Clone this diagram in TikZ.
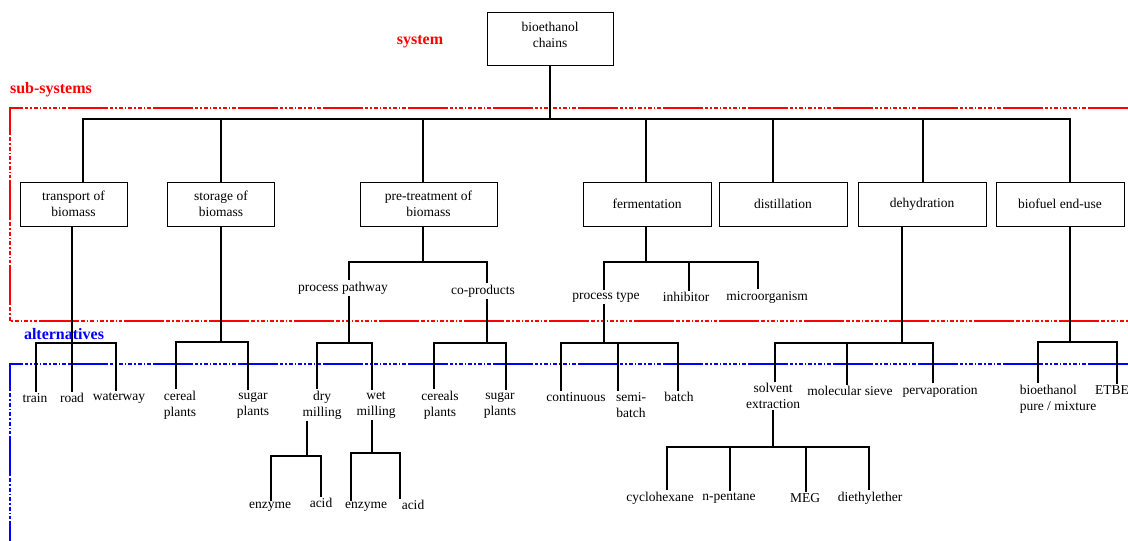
\documentclass[tikz,border=0pt]{standalone}
\usepackage{fontspec}
\setmainfont{Liberation Serif}
\usetikzlibrary{positioning}

\begin{document}
\begin{tikzpicture}[
  x=1pt, y=-1pt,
  every node/.style={font=\fontsize{13.5}{16}\selectfont},
  box/.style={draw, line width=0.9pt, align=center, minimum width=128pt, minimum height=44pt, inner sep=2pt},
  alt/.style={align=center, inner sep=1.5pt},
  tag/.style={font=\fontsize{16}{18}\selectfont\bfseries},
  link/.style={line width=1.1pt},
  frame/.style={line width=1.2pt, dash pattern=on 40pt off 2pt on 4pt off 2pt on 1.5pt off 2pt on 4pt off 2pt on 1.5pt off 2pt on 4pt off 2pt on 1.5pt off 2pt on 4pt off 2pt on 1.5pt off 2pt on 3pt off 2pt}
]
\useasboundingbox (0,0) rectangle (1128,541);

% Frames and level tags
\draw[frame, red] (1128,108) -- (10,108) -- (10,321) -- (1128,321);
\draw[frame, blue] (1128,364) -- (10,364) -- (10,541);
\node[tag, red] (tSys) at (420,42) {system};
\node[tag, red] (tSub) at (51,90) {sub-systems};
\node[tag, blue] (tAlt) at (64,334) {alternatives};

% System
\node[box, minimum width=126pt, minimum height=53pt, text depth=7pt] (root) at (550,38.5) {bioethanol\\chains};

% Sub-systems
\node[box, minimum width=107pt] (trans) at (73.5,204) {transport of\\biomass};
\node[box, minimum width=107pt] (stor) at (221,204) {storage of\\biomass};
\node[box, minimum width=137pt] (pre) at (428.5,204) {pre-treatment of\\biomass};
\node[box] (ferm) at (647,204) {fermentation};
\node[box] (dist) at (783,204) {distillation};
\node[box] (dehy) at (922,204) {dehydration};
\node[box] (enduse) at (1060,204) {biofuel end-use};

% Intermediate items
\node[alt] (path) at (343,288) {process pathway};
\node[alt] (copr) at (483,291) {co-products};
\node[alt] (ptype) at (606,297) {process type};
\node[alt] (inhib) at (686,297) {inhibitor};
\node[alt] (micro) at (767,297) {microorganism};

% Alternatives
\node[alt] (train) at (35,398) {train};
\node[alt] (road) at (72,398) {road};
\node[alt] (water) at (119,398) {waterway};
\node[alt] (cereal) at (180,405) {cereal\\plants};
\node[alt] (sugar) at (253,405) {sugar\\plants};
\node[alt] (dry) at (322,405) {dry\\milling};
\node[alt] (wet) at (376,405) {wet\\milling};
\node[alt] (cereals) at (440,405) {cereals\\plants};
\node[alt] (sugarB) at (500,405) {sugar\\plants};
\node[alt] (enzA) at (270,507) {enzyme};
\node[alt] (acidA) at (321,503) {acid};
\node[alt] (enzB) at (366,507) {enzyme};
\node[alt] (acidB) at (413,505) {acid};
\node[alt] (cont) at (576,397) {continuous};
\node[alt] (semi) at (631,405) {semi-\\batch};
\node[alt] (batch) at (679,397) {batch};
\node[alt] (solv) at (773,396) {solvent\\extraction};
\node[alt] (sieve) at (850,391) {molecular sieve};
\node[alt] (perv) at (940,391) {pervaporation};
\node[alt] (cyclo) at (660,498) {cyclohexane};
\node[alt] (pent) at (729,498) {n-pentane};
\node[alt] (meg) at (805,498) {MEG};
\node[alt] (ether) at (870,498) {diethylether};
\node[alt, align=left] (mix) at (1058,399) {bioethanol\\pure / mixture};
\node[alt] (etbe) at (1112,390) {ETBE};

% Junctions
\coordinate (jSys) at (550,119);
\coordinate (jTr) at (72,343);
\coordinate (jSt) at (221,342);
\coordinate (jPre) at (423,262);
\coordinate (jPath) at (349,343);
\coordinate (jCo) at (487,343);
\coordinate (jDry) at (307,456);
\coordinate (jWet) at (372,453);
\coordinate (jFe) at (646,262);
\coordinate (jPt) at (604,343);
\coordinate (jDe) at (902,343);
\coordinate (jSolv) at (773,447);
\coordinate (jEnd) at (1070,342);

% Links
\draw[link] (root.south) -- (jSys);
\foreach \c/\s in {trans/9.5, stor/0, pre/-5.5, ferm/-1, dist/-10, dehy/1, enduse/10}
  \draw[link] (jSys) -| ([xshift=\s pt]\c.north);

\draw[link] (trans.south -| jTr) -- (jTr);
\foreach \c/\s in {train/1, road/0, water/-3}
  \draw[link] (jTr) -| ([xshift=\s pt]\c.north);

\draw[link] (stor.south -| jSt) -- (jSt);
\foreach \c/\s in {cereal/-4, sugar/-5}
  \draw[link] (jSt) -| ([xshift=\s pt]\c.north);

\draw[link] (pre.south -| jPre) -- (jPre);
\foreach \c/\s in {path/6, copr/4}
  \draw[link] (jPre) -| ([xshift=\s pt]\c.north);

\draw[link] (path.south -| jPath) -- (jPath);
\foreach \c/\s in {dry/-5, wet/-4}
  \draw[link] (jPath) -| ([xshift=\s pt]\c.north);

\draw[link] (copr.south -| jCo) -- (jCo);
\foreach \c/\s in {cereals/-6, sugarB/6}
  \draw[link] (jCo) -| ([xshift=\s pt]\c.north);

\draw[link] (dry.south -| jDry) -- (jDry);
\foreach \c/\s in {enzA/1, acidA/0}
  \draw[link] (jDry) -| ([xshift=\s pt]\c.north);

\draw[link] (wet.south -| jWet) -- (jWet);
\foreach \c/\s in {enzB/-15, acidB/-13}
  \draw[link] (jWet) -| ([xshift=\s pt]\c.north);

\draw[link] (ferm.south -| jFe) -- (jFe);
\foreach \c/\s in {ptype/-2, inhib/3, micro/-9}
  \draw[link] (jFe) -| ([xshift=\s pt]\c.north);

\draw[link] (ptype.south -| jPt) -- (jPt);
\foreach \c/\s in {cont/-15, semi/-13, batch/-1}
  \draw[link] (jPt) -| ([xshift=\s pt]\c.north);

\draw[link] (dehy.south -| jDe) -- (jDe);
\foreach \c/\s in {solv/2, sieve/-3, perv/-7}
  \draw[link] (jDe) -| ([xshift=\s pt]\c.north);

\draw[link] (solv.south -| jSolv) -- (jSolv);
\foreach \c/\s in {cyclo/7, pent/1, meg/1, ether/-1}
  \draw[link] (jSolv) -| ([xshift=\s pt]\c.north);

\draw[link] (enduse.south -| jEnd) -- (jEnd);
\foreach \c/\s in {mix/-20, etbe/5}
  \draw[link] (jEnd) -| ([xshift=\s pt]\c.north);
\end{tikzpicture}
\end{document}
